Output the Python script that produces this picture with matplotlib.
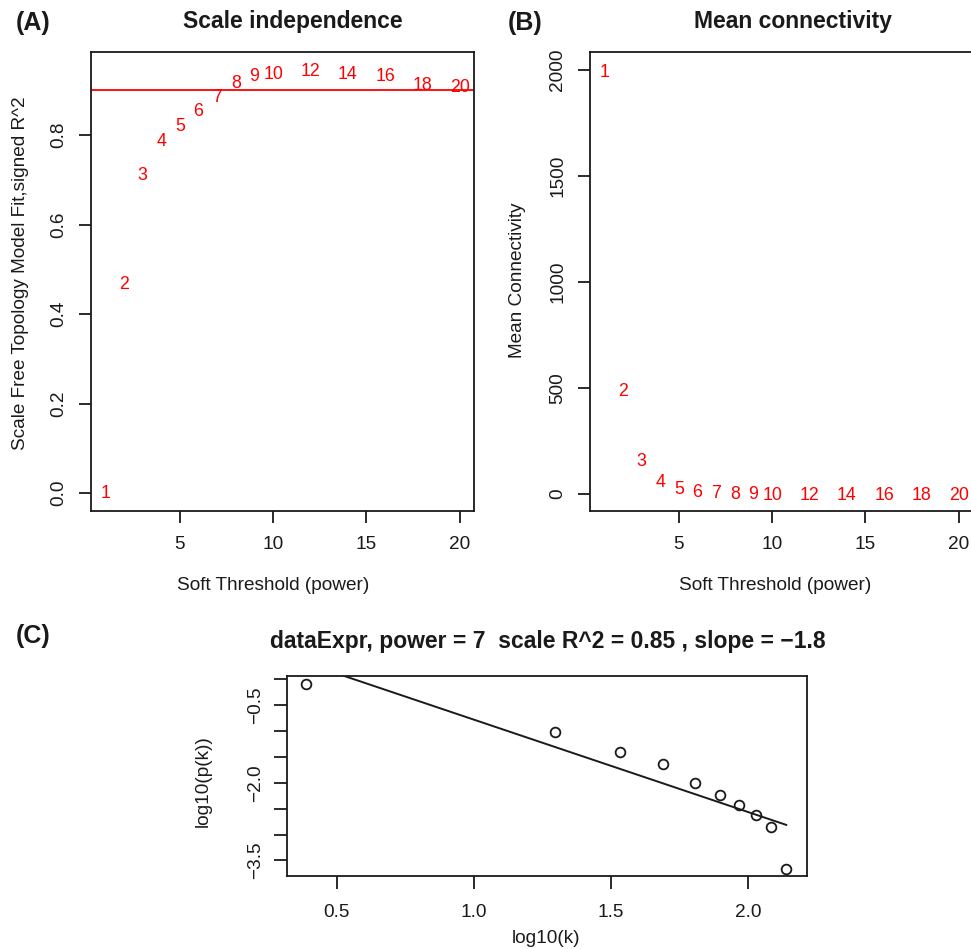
import numpy as np
import matplotlib
matplotlib.use('Agg')
import matplotlib.pyplot as plt
from matplotlib.ticker import FixedLocator, FuncFormatter

# soft-threshold powers that were tried
powers = [1, 2, 3, 4, 5, 6, 7, 8, 9, 10, 12, 14, 16, 18, 20]
# signed R^2 of the scale free fit, one per power
sft_r2 = [0.003, 0.471, 0.715, 0.790, 0.825, 0.857, 0.889, 0.920, 0.935, 0.941,
          0.946, 0.941, 0.936, 0.915, 0.912]
# mean connectivity, one per power
mean_k = [2000, 491, 162, 63, 31, 15, 8, 5, 3, 2, 1, 0.6, 0.4, 0.3, 0.2]
r2_cut = 0.9

# scale free plot at the chosen power
power_used = 7
scale_r2 = 0.85
log_k = [0.388, 1.295, 1.534, 1.689, 1.807, 1.896, 1.965, 2.027, 2.083, 2.138]
log_pk = [-0.095, -1.027, -1.413, -1.645, -2.004, -2.236, -2.435, -2.629, -2.854, -3.666]

plt.rcParams['font.family'] = ['Liberation Sans', 'DejaVu Sans']
plt.rcParams['ytick.alignment'] = 'center'

W, H = 971, 949
INK = '#1a1a1a'
AX_FS = 13.7
fig = plt.figure(figsize=(W / 100, H / 100), dpi=100)


def add_axes_px(box):
    left, top, right, bottom = box
    return fig.add_axes([left / W, 1 - bottom / H, (right - left) / W, (bottom - top) / H])


def frac(box, x, y):
    # pixel position -> axes fraction
    left, top, right, bottom = box
    return (x - left) / (right - left), (bottom - y) / (bottom - top)


def r_axes(ax, tick_len, xpad, ypad):
    for sp in ax.spines.values():
        sp.set_linewidth(1.3)
        sp.set_color(INK)
    ax.tick_params(direction='out', length=tick_len, width=1.3, color=INK,
                   labelsize=AX_FS, labelcolor=INK)
    ax.tick_params(axis='x', pad=xpad)
    ax.tick_params(axis='y', pad=ypad, labelrotation=90)


def labels(ax, box, title, title_xy, xlab, xlab_xy, ylab, ylab_xy):
    ax.text(*frac(box, *title_xy), title, transform=ax.transAxes, ha='center', va='center',
            fontsize=16.5, fontweight='bold', color=INK)
    ax.set_xlabel(xlab, fontsize=AX_FS, color=INK, va='center')
    ax.xaxis.set_label_coords(*frac(box, *xlab_xy))
    ax.set_ylabel(ylab, fontsize=AX_FS, color=INK, va='center')
    ax.yaxis.set_label_coords(*frac(box, *ylab_xy))


fmt1 = FuncFormatter(lambda v, _: f'{v:.1f}'.replace('-', '\u2212'))

# (A) scale independence
boxA = (91, 52, 474, 511)
axA = add_axes_px(boxA)
for p, r in zip(powers, sft_r2):
    axA.text(p, r, str(p), color='red', fontsize=12.8, ha='center', va='center_baseline')
axA.axhline(r2_cut, color='red', lw=1.3)
axA.set_xlim(0.24, 20.76)
axA.set_ylim(-0.040, 0.986)
axA.set_xticks([5, 10, 15, 20])
axA.set_yticks([0, 0.2, 0.4, 0.6, 0.8])
axA.yaxis.set_major_formatter(fmt1)
r_axes(axA, 8.6, 9.6, 8.6)
labels(axA, boxA, 'Scale independence', (293, 21.3),
       'Soft Threshold (power)', (273.3, 585),
       'Scale Free Topology Model Fit,signed R^2', (20.8, 273.5))

# (B) mean connectivity
boxB = (590, 52, 973, 511)
axB = add_axes_px(boxB)
for p, k in zip(powers, mean_k):
    axB.text(p, k, str(p), color='red', fontsize=12.8, ha='center', va='center_baseline')
axB.set_xlim(0.24, 20.76)
axB.set_ylim(-82, 2085)
axB.set_xticks([5, 10, 15, 20])
axB.set_yticks([0, 500, 1000, 1500, 2000])
r_axes(axB, 8.6, 9.6, 8.6)
labels(axB, boxB, 'Mean connectivity', (793, 21.3),
       'Soft Threshold (power)', (775.5, 585),
       'Mean Connectivity', (517.5, 280))

# (C) scale free topology check
boxC = (286.7, 675.7, 806.7, 876)
axC = add_axes_px(boxC)
slope, intercept = np.polyfit(log_k, log_pk, 1)
xs = np.array(log_k)
axC.plot(xs, intercept + slope * xs, color=INK, lw=1.4)
axC.plot(log_k, log_pk, 'o', mfc='none', mec=INK, ms=7, mew=1.3)
axC.set_xlim(0.318, 2.2126)
axC.set_ylim(-3.801, 0.066)
axC.set_xticks([0.5, 1.0, 1.5, 2.0])
axC.xaxis.set_major_formatter(fmt1)
axC.yaxis.set_major_locator(FixedLocator(np.arange(-3.5, 0.01, 0.5)))
shown = (-0.5, -2.0, -3.5)
axC.yaxis.set_major_formatter(FuncFormatter(
    lambda v, _: f'{v:.1f}'.replace('-', '\u2212') if round(v, 1) in shown else ''))
r_axes(axC, 9.6, 10.4, 6.5)
title_c = f'dataExpr, power = {power_used}  scale R^2 = {scale_r2} , slope = {slope:.1f}'
labels(axC, boxC, title_c.replace('-', '\u2212'), (548, 641.3),
       'log10(k)', (546, 938.9),
       'log10(p(k))', (203.5, 780.8))

for letter, x, y in [('(A)', 33, 23), ('(B)', 525, 23), ('(C)', 33, 635.6)]:
    fig.text(x / W, 1 - y / H, letter, fontsize=18, fontweight='bold', ha='center', va='center',
             color=INK)

fig.savefig('out.png', dpi=100)
